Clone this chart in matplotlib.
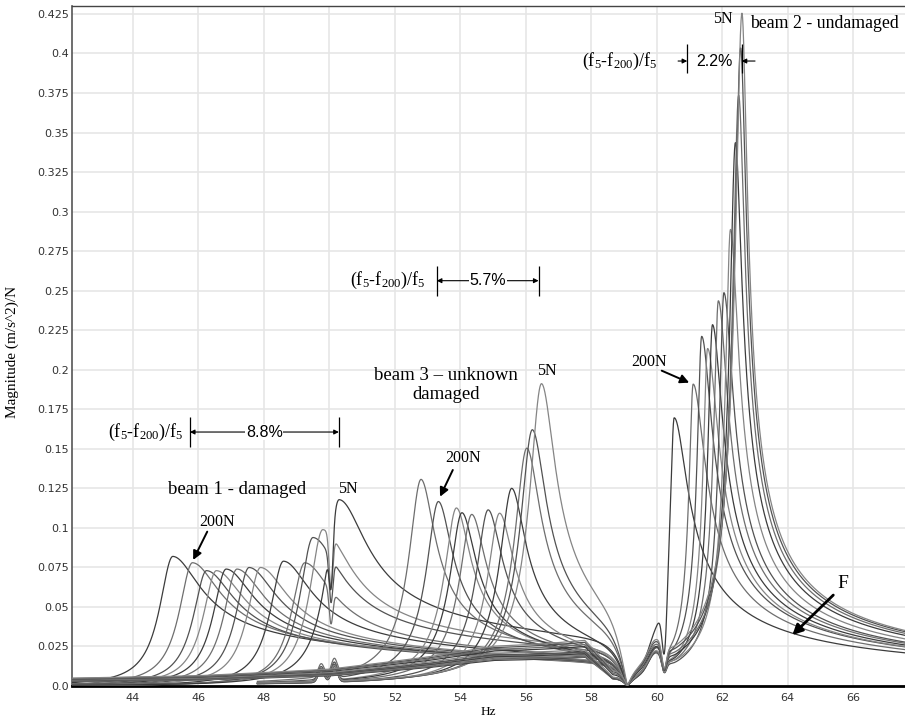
"""Frequency response of three beams under increasing force (5N .. 200N)."""

import numpy as np
import matplotlib

matplotlib.use("Agg")
import matplotlib.pyplot as plt

# Peak frequency (Hz) and peak magnitude ((m/s^2)/N) of each force level
b1_peak_hz = [45.22, 45.82, 46.25, 46.55, 46.85, 47.18, 47.55, 47.90, 48.60, 49.25, 49.50, 49.80, 50.30]
b1_peak_mag = [0.082, 0.078, 0.073, 0.073, 0.074, 0.074, 0.075, 0.075, 0.079, 0.078, 0.094, 0.099, 0.118]

b3_peak_hz = [52.80, 53.33, 53.88, 54.05, 54.35, 54.85, 55.20, 55.57, 56.03, 56.20, 56.48]
b3_peak_mag = [0.131, 0.117, 0.113, 0.110, 0.109, 0.112, 0.110, 0.126, 0.152, 0.164, 0.194]

b2_peak_hz = [60.53, 61.11, 61.37, 61.55, 61.70, 61.88, 62.05, 62.25, 62.40, 62.50, 62.56, 62.60]
b2_peak_mag = [0.173, 0.193, 0.223, 0.215, 0.230, 0.245, 0.250, 0.290, 0.345, 0.375, 0.405, 0.427]

# low-frequency level of beam 2 below the anti-resonance
b2_floor_hz = [42.0, 46.0, 50.0, 53.0, 55.0, 57.8, 58.65]
b2_floor_mag = [0.003, 0.004, 0.007, 0.013, 0.018, 0.018, 0.0]

anti_res_hz = 59.1

x_ticks = [44, 46, 48, 50, 52, 54, 56, 58, 60, 62, 64, 66]
y_ticks = [0.0, 0.025, 0.05, 0.075, 0.1, 0.125, 0.15, 0.175, 0.2, 0.225, 0.25,
           0.275, 0.3, 0.325, 0.35, 0.375, 0.4, 0.425]
y_tick_labels = ["0.0", "0.025", "0.05", "0.075", "0.1", "0.125", "0.15", "0.175", "0.2",
                 "0.225", "0.25", "0.275", "0.3", "0.325", "0.35", "0.375", "0.4", "0.425"]

plt.rcParams["font.family"] = ["DejaVu Sans"]
plt.rcParams["mathtext.fontset"] = "custom"
plt.rcParams["mathtext.rm"] = "Liberation Serif"
plt.rcParams["mathtext.it"] = "Liberation Serif:italic"

SERIF = "Liberation Serif"
SANS = "Liberation Sans"
LINE_COLORS = ["#3c3c3c", "#6e6e6e", "#525252", "#858585"]


def resonance(f, fp, amp, gl, ql, gr, pr, c=0.0, tail=10.0):
    """Asymmetric resonance peak: steep rise on the left, slow decay on the right."""
    d = f - fp
    left = amp / (1 + (d / gl) ** 2) ** ql
    right = amp * ((1 - c) / (1 + (d / gr) ** 2) ** pr + c * np.exp(-np.abs(d) / tail))
    return np.where(d < 0, left, right)


def notch(f, width):
    x = f - anti_res_hz
    return np.abs(x) / np.sqrt(x ** 2 + width ** 2)


f = np.linspace(42.14, 67.6, 5000)

fig = plt.figure(figsize=(9.05, 7.22), dpi=100)
ax = fig.add_axes([72 / 905, 36 / 722, 833 / 905, 680 / 722])

lines_drawn = 0

# beam 1 - damaged
mask1 = f <= anti_res_hz
for fp, amp in zip(b1_peak_hz, b1_peak_mag):
    y = resonance(f, fp, amp, 0.5, 1.0, 0.8, 0.5, c=0.26, tail=25.0)
    if fp > 49.0:
        y = y * (1 - 0.35 * np.exp(-((f - 50.05) / 0.08) ** 2))
    y = y * notch(f, 0.45)
    ax.plot(f[mask1], y[mask1], color=LINE_COLORS[lines_drawn % 4], lw=0.9, zorder=3)
    lines_drawn += 1

# beam 3 - unknown damage
mask3 = (f >= 47.8) & (f <= anti_res_hz)
for fp, amp in zip(b3_peak_hz, b3_peak_mag):
    y = resonance(f, fp, amp, 0.4, 0.75, 0.4, 0.5, c=0.15, tail=12.0)
    y = y + 0.008 * np.exp(-((f - 49.75) / 0.13) ** 2) + 0.010 * np.exp(-((f - 50.15) / 0.13) ** 2)
    y = y * notch(f, 0.45)
    ax.plot(f[mask3], y[mask3], color=LINE_COLORS[lines_drawn % 4], lw=0.9, zorder=3)
    lines_drawn += 1

# beam 2 - undamaged
n2 = len(b2_peak_hz)
for i, (fp, amp) in enumerate(zip(b2_peak_hz, b2_peak_mag)):
    peak = resonance(f, fp, amp, 0.07 + 0.3 * amp, 0.6, 0.06 / amp, 0.35)
    dip = 1 - 0.7 * np.exp(-((f - 60.22) / 0.1) ** 2)
    bump = np.where(f > anti_res_hz, 0.012 * np.exp(-((f - 59.95) / 0.3) ** 2), 0.0)
    floor = np.interp(f, b2_floor_hz, b2_floor_mag, right=0.0) * (0.8 + 0.3 * i / (n2 - 1))
    y = (peak * dip + bump) * notch(f, 0.3) + floor
    ax.plot(f, y, color=LINE_COLORS[lines_drawn % 4], lw=0.9, zorder=3)
    lines_drawn += 1

# axes styling
ax.set_xlim(42.14, 67.58)
ax.set_ylim(0, 0.43)
ax.set_xticks(x_ticks)
ax.set_yticks(y_ticks)
ax.set_yticklabels(y_tick_labels)
ax.tick_params(axis="both", length=0, labelsize=8, labelcolor="#333333")
ax.tick_params(axis="x", pad=5)
ax.tick_params(axis="y", pad=2)
ax.grid(True, color="#e6e6e6", lw=1.2, zorder=0)
ax.set_axisbelow(True)
ax.spines["right"].set_visible(False)
ax.spines["left"].set_color("#555555")
ax.spines["left"].set_linewidth(1.2)
ax.spines["top"].set_color("#444444")
ax.spines["top"].set_linewidth(1.0)
ax.spines["bottom"].set_color("black")
ax.spines["bottom"].set_linewidth(2.0)

fig.text(488 / 905, 1 - 712 / 722, "Hz", ha="center", va="center", family=SERIF, size=9.5)
fig.text(12 / 905, 1 - 352 / 722, "Magnitude (m/s^2)/N", rotation=90, ha="center",
         va="center", family=SERIF, size=11)

# percentage shift markers
ratio_label = r"(f$_{\mathrm{5}}$-f$_{\mathrm{200}}$)/f$_{\mathrm{5}}$"


def shift_marker(x0, x1, y, label, half):
    ax.annotate("", xy=(x0, y), xytext=(x1, y),
                arrowprops=dict(arrowstyle="<|-|>", color="black", lw=0.8,
                                mutation_scale=7, shrinkA=0, shrinkB=0), zorder=5)
    ax.text((x0 + x1) / 2, y, label, ha="center", va="center", family=SANS, size=11.5,
            bbox=dict(fc="white", ec="none", pad=0.5), zorder=6)
    ax.vlines([x0, x1], y - half, y + half, color="black", lw=0.9, zorder=5)


shift_marker(45.74, 50.29, 0.1606, "8.8%", 0.0092)
ax.text(45.53, 0.1606, ratio_label, ha="right", va="center", family=SERIF, size=13)

shift_marker(53.28, 56.39, 0.2563, "5.7%", 0.0095)
ax.text(52.92, 0.2563, ratio_label, ha="right", va="center", family=SERIF, size=13)

ax.text(60.01, 0.3952, ratio_label, ha="right", va="center", family=SERIF, size=13)
ax.vlines([60.93, 62.59], 0.3878, 0.4057, color="black", lw=0.9, zorder=5)
ax.annotate("", xy=(60.93, 0.3952), xytext=(60.65, 0.3952),
            arrowprops=dict(arrowstyle="-|>", color="black", lw=0.8, mutation_scale=7,
                            shrinkA=0, shrinkB=0), zorder=5)
ax.annotate("", xy=(62.59, 0.3952), xytext=(63.0, 0.3952),
            arrowprops=dict(arrowstyle="-|>", color="black", lw=0.8, mutation_scale=7,
                            shrinkA=0, shrinkB=0), zorder=5)
ax.text(61.75, 0.3952, "2.2%", ha="center", va="center", family=SANS, size=11.5, zorder=6)

# beam labels
ax.text(47.19, 0.124, "beam 1 - damaged", ha="center", va="center", family=SERIF, size=13.5)
ax.text(53.57, 0.1904, "beam 3 \u2013 unknown\ndamaged", ha="center", va="center",
        family=SERIF, size=13.5, linespacing=1.1)
ax.text(62.85, 0.419, "beam 2 - undamaged", ha="left", va="center", family=SERIF, size=12.8)

for x, y in [(50.57, 0.1244), (56.63, 0.1992), (62.03, 0.4217)]:
    ax.text(x, y, "5N", ha="center", va="center", family=SERIF, size=11.5)

# 200N pointers: (text x, text y, tail x, tail y, tip x, tip y)
pointer_200n = [
    (46.57, 0.1039, 46.27, 0.0976, 45.84, 0.0797),
    (54.09, 0.1440, 53.77, 0.1366, 53.38, 0.1197),
    (59.76, 0.2050, 60.15, 0.1994, 60.99, 0.1918),
]
for tx, ty, ax0, ay0, ax1, ay1 in pointer_200n:
    ax.text(tx, ty, "200N", ha="center", va="center", family=SERIF, size=11.5)
    ax.annotate("", xy=(ax1, ay1), xytext=(ax0, ay0),
                arrowprops=dict(arrowstyle="-|>", color="black", lw=1.4, mutation_scale=13,
                                shrinkA=0, shrinkB=0), zorder=5)

ax.text(65.69, 0.0645, "F", ha="center", va="center", family=SERIF, size=14)
ax.annotate("", xy=(64.14, 0.0322), xytext=(65.39, 0.0575),
            arrowprops=dict(arrowstyle="-|>", color="black", lw=2.0, mutation_scale=15,
                            shrinkA=0, shrinkB=0), zorder=5)

fig.savefig("out.png", dpi=100)
plt.close(fig)
